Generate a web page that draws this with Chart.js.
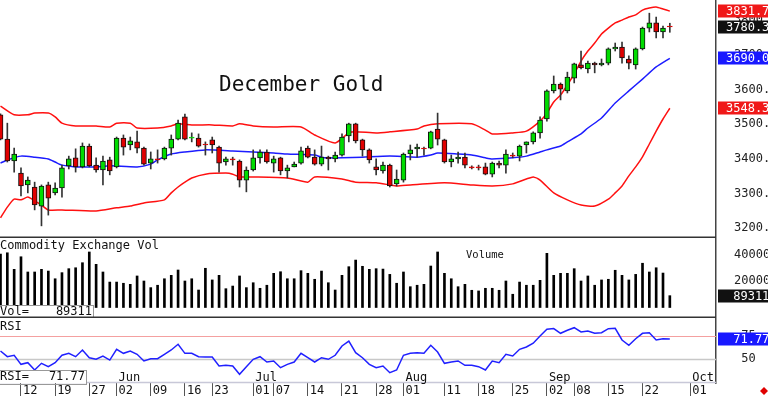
<!DOCTYPE html>
<html>
<head>
<meta charset="utf-8">
<script src="https://cdn.jsdelivr.net/npm/chart.js@4.4.1/dist/chart.umd.min.js"></script>
<style>
  html, body { margin:0; padding:0; background:#fff; }
  body { width:768px; height:399px; position:relative; overflow:hidden; }
  .pane { position:absolute; left:0; width:768px; }
  #pricePane { top:0; height:238px; }
  #volPane { top:238px; height:80px; }
  #rsiPane { top:318px; height:81px; }
</style>
</head>
<body>
<div class="pane" id="pricePane"><canvas id="priceChart"></canvas></div>
<div class="pane" id="volPane"><canvas id="volChart"></canvas></div>
<div class="pane" id="rsiPane"><canvas id="rsiChart"></canvas></div>
<script>
// trading day index 0 = May 7 ... 98 = Sep 26
const tickIdx  = [3,8,13,17,22,27,31,37,40,45,50,55,59,65,70,75,80,84,89,94,101];
const tickText = ['12','19','27','02','09','16','23','01','07','14','21','28','01','11','18','25','02','08','15','22','01'];
const monthIdx  = [17,37,59,80,101];
const monthText = ['Jun','Jul','Aug','Sep','Oct'];

const open  = [3527,3457,3394,3359,3325,3319,3264,3325,3302,3316,3380,3403,3377,3437,3382,3368,3397,3377,3460,3440,
               3449,3431,3388,3400,3400,3431,3457,3521,3460,3460,3443,3455,3434,3391,3400,3394,3339,3368,3403,3420,
               3388,3403,3365,3377,3388,3431,3405,3385,3405,3400,3411,3466,3501,3455,3426,3377,3365,3382,3328,3339,
               3414,3429,3431,3431,3486,3455,3391,3400,3405,3377,3377,3377,3356,3388,3382,3411,3408,3440,3449,3475,
               3515,3596,3616,3596,3633,3671,3659,3676,3671,3676,3717,3722,3688,3671,3717,3777,3792,3766,3783];
const high  = [3530,3503,3431,3374,3348,3333,3325,3333,3331,3382,3408,3429,3446,3443,3403,3408,3405,3463,3469,3463,
               3480,3434,3420,3426,3434,3469,3512,3529,3475,3472,3449,3463,3437,3405,3405,3397,3377,3426,3426,3426,
               3408,3405,3382,3391,3434,3437,3426,3437,3408,3420,3472,3503,3503,3457,3429,3400,3391,3385,3368,3417,
               3440,3443,3434,3480,3532,3457,3411,3420,3417,3380,3382,3388,3391,3394,3426,3417,3440,3449,3478,3521,
               3599,3639,3619,3650,3676,3711,3682,3679,3688,3720,3734,3737,3697,3720,3780,3820,3809,3783,3791];
const low   = [3455,3391,3362,3293,3302,3253,3207,3238,3296,3290,3371,3362,3374,3377,3362,3325,3354,3374,3411,3426,
               3417,3382,3371,3388,3397,3411,3455,3455,3449,3434,3411,3417,3362,3382,3382,3319,3305,3365,3388,3388,
               3362,3354,3345,3377,3385,3403,3382,3380,3368,3391,3408,3449,3446,3408,3388,3354,3359,3319,3322,3333,
               3397,3405,3411,3429,3440,3388,3377,3388,3374,3371,3368,3354,3348,3374,3359,3403,3394,3417,3443,3460,
               3509,3590,3570,3590,3619,3659,3648,3648,3668,3671,3711,3676,3659,3659,3714,3766,3749,3749,3765];
const close = [3457,3394,3414,3322,3339,3267,3322,3287,3316,3374,3400,3377,3437,3380,3368,3394,3365,3460,3434,3452,
               3431,3385,3400,3397,3431,3457,3503,3457,3463,3437,3440,3440,3388,3400,3397,3339,3368,3403,3420,3391,
               3400,3365,3374,3385,3423,3405,3385,3405,3400,3411,3463,3501,3452,3426,3397,3368,3382,3322,3342,3414,
               3426,3434,3429,3478,3457,3391,3400,3405,3382,3374,3374,3356,3388,3382,3414,3408,3437,3449,3475,3512,
               3596,3616,3601,3636,3674,3662,3676,3671,3676,3717,3722,3691,3676,3717,3777,3792,3766,3777,3780.3];

const upIdx  = [0,2,4,5,7,8,9,11,14,16,17,19,20,23,25,26,28,31,34,35,37,40,44,46,49,51,52,55,57,61,
                62,64,69,71,72,75,77,79,80,81,82,83,84,85,86,87,88,89,90,91,92,93,94,95,96,97,98];
const upVal  = [3552,3527,3527,3532,3532,3521,3503,3495,3495,3492,3503,3503,3489,3489,3495,3501,3498,3498,3495,3501,
                3495,3492,3492,3469,3446,3475,3478,3475,3478,3486,3495,3501,3501,3483,3472,3475,3480,3509,3532,3564,
                3584,3613,3645,3682,3711,3734,3760,3777,3792,3800,3809,3815,3829,3835,3838,3832,3826];
const midIdx = [0,1,3,5,7,8,9,11,14,16,20,22,23,25,27,30,34,37,40,42,46,47,48,50,53,57,61,63,64,67,
                69,71,72,75,77,79,80,82,83,85,86,88,90,92,94,96,98];
const midVal = [3388,3397,3408,3405,3400,3391,3382,3377,3377,3380,3377,3385,3397,3414,3420,3426,3423,3420,3417,3414,
                3411,3405,3403,3403,3405,3408,3405,3411,3417,3414,3411,3403,3400,3403,3408,3420,3426,3437,3449,3472,
                3489,3518,3561,3596,3630,3665,3690];
const lowIdx = [0,1,2,3,4,5,6,7,9,14,17,19,21,24,25,26,27,28,30,33,34,35,37,42,45,46,50,52,55,57,
                58,60,65,69,72,75,77,78,79,81,83,85,87,89,90,91,92,93,94,95,96,97,98];
const lowVal = [3230,3261,3284,3282,3290,3279,3267,3253,3253,3250,3259,3264,3273,3282,3302,3319,3333,3345,3356,3359,
                3356,3348,3348,3345,3333,3348,3342,3333,3331,3325,3322,3325,3331,3325,3322,3328,3342,3348,3339,3302,
                3282,3267,3264,3284,3302,3322,3351,3377,3406,3443,3480,3515,3546];
const lastLabels = ['3831.7','3780.3','3690.0','3548.3'];

const volume = [404000,413000,288000,383000,268000,268000,288000,275000,217000,263000,
                293000,300000,338000,419000,326000,268000,192000,192000,183000,175000,
                238000,200000,150000,168000,217000,243000,283000,200000,217000,132000,
                296000,208000,243000,142000,162000,238000,150000,187000,145000,168000,
                258000,270000,217000,217000,278000,258000,213000,275000,187000,132000,
                243000,308000,358000,311000,288000,293000,290000,250000,183000,268000,
                157000,168000,175000,313000,419000,258000,217000,157000,175000,130000,
                125000,145000,145000,130000,200000,100000,192000,168000,168000,205000,
                409000,243000,258000,258000,293000,200000,238000,168000,208000,213000,
                281000,243000,208000,250000,334000,268000,300000,260000,89311];

const rsi = [58.9,52.8,54.3,44.6,46.4,38.5,45.7,42.1,46.4,54.3,56.4,52.8,60.0,51.7,50.0,53.5,49.2,60.7,56.4,58.9,
             55.4,48.2,50.6,50.6,55.4,60.0,66.1,56.4,56.4,52.8,52.5,52.5,42.8,43.6,42.8,33.9,42.1,50.0,52.8,47.1,
             48.2,41.0,44.6,47.1,56.4,51.7,47.1,51.7,50.0,54.3,64.3,69.6,57.1,51.7,44.6,41.0,42.8,35.6,38.5,54.3,
             56.4,57.1,56.4,65.0,57.8,45.7,47.1,48.2,43.6,43.6,42.1,38.5,48.2,46.4,55.4,53.5,60.7,63.2,67.2,75.0,
             82.2,82.9,77.9,81.1,83.9,79.3,80.4,77.9,78.5,82.9,83.2,70.7,65.0,72.1,77.9,78.5,70.7,72.1,71.77];

const priceTicks = [3200,3300,3400,3500,3600,3700,3800];
const volTicks = [0,200000,400000];
const rsiTicks = [50,75];

const MONO = "'DejaVu Sans Mono', 'Liberation Mono', monospace";
const GREEN = '#00dc00', RED = '#e00000';
const X_MIN = -0.073, X_MAX = 104.76;

Chart.defaults.animation = false;
Chart.defaults.events = [];

function pts(xs, ys) { return xs.map((x, k) => ({ x: x, y: ys[k] })); }

function yAxis(min, max, ticks, fmt) {
  return {
    position: 'right', min: min, max: max,
    afterBuildTicks: s => { s.ticks = ticks.map(v => ({ value: v })); },
    afterFit: s => { s.width = 52; s.paddingTop = 0; s.paddingBottom = 0; },
    border: { display: true, color: '#444', width: 1.5 },
    grid: { display: false },
    ticks: { padding: 10, color: '#222', font: { family: MONO, size: 12 }, callback: fmt }
  };
}
function hiddenX() {
  return { type: 'linear', min: X_MIN, max: X_MAX, offset: false, display: false };
}
function valueBox(ctx, y, text, bg) {
  ctx.save();
  ctx.fillStyle = bg;
  ctx.fillRect(718, Math.round(y) - 6.5, 50, 13);
  ctx.fillStyle = '#fff';
  ctx.font = '12px ' + MONO;
  ctx.textBaseline = 'middle';
  ctx.textAlign = 'left';
  ctx.fillText(text.padStart(6, ' '), 726, Math.round(y) + 0.5);
  ctx.restore();
}
function hline(ctx, x1, x2, y, color, w) {
  ctx.save();
  ctx.strokeStyle = color; ctx.lineWidth = w;
  ctx.beginPath(); ctx.moveTo(x1, y); ctx.lineTo(x2, y); ctx.stroke();
  ctx.restore();
}
function label(ctx, text, x, y, size, align) {
  ctx.save();
  ctx.fillStyle = '#111';
  ctx.font = size + 'px ' + MONO;
  ctx.textBaseline = 'middle';
  ctx.textAlign = align || 'left';
  ctx.fillText(text, x, y);
  ctx.restore();
}

const n = close.length;
const bodyColor = close.map((c, i) => c >= open[i] ? GREEN : RED);
const bodyBorder = close.map((c, i) => Math.abs(c - open[i]) < 4 ? bodyColor[i] : '#111');

// ---- price panel
new Chart(document.getElementById('priceChart'), {
  type: 'bar',
  data: {
    datasets: [
      { type: 'line', data: pts(upIdx, upVal), borderColor: '#ff1010', borderWidth: 1.5, pointRadius: 0, tension: 0.2, order: 5 },
      { type: 'line', data: pts(midIdx, midVal), borderColor: '#1c1cff', borderWidth: 1.5, pointRadius: 0, tension: 0.2, order: 5 },
      { type: 'line', data: pts(lowIdx, lowVal), borderColor: '#ff1010', borderWidth: 1.5, pointRadius: 0, tension: 0.2, order: 5 },
      { type: 'bar', data: low.map((v, i) => ({ x: i, y: [v, high[i]] })), backgroundColor: '#333', barThickness: 1, grouped: false, order: 3 },
      { type: 'bar', data: open.map((v, i) => ({ x: i, y: [v, close[i]] })), backgroundColor: bodyColor, borderColor: bodyBorder,
        borderWidth: 1, borderSkipped: false, barThickness: 5, grouped: false, order: 2 }
    ]
  },
  options: {
    responsive: true, maintainAspectRatio: false,
    layout: { padding: 0 },
    plugins: { legend: { display: false }, tooltip: { enabled: false } },
    scales: { x: hiddenX(), y: yAxis(3172, 3858, priceTicks, v => v.toFixed(1)) }
  },
  plugins: [{
    id: 'priceDecor',
    afterDraw(chart) {
      const ctx = chart.ctx, a = chart.chartArea, y = chart.scales.y;
      label(ctx, 'December Gold', 219, 86, 21);
      hline(ctx, 0, a.right, a.bottom - 0.75, '#333', 1.5);
      valueBox(ctx, y.getPixelForValue(upVal[upVal.length - 1]), lastLabels[0], '#f01818');
      valueBox(ctx, y.getPixelForValue(close[n - 1]), lastLabels[1], '#111');
      valueBox(ctx, y.getPixelForValue(midVal[midVal.length - 1]), lastLabels[2], '#1818ff');
      valueBox(ctx, y.getPixelForValue(lowVal[lowVal.length - 1]), lastLabels[3], '#f01818');
    }
  }]
});

// ---- volume panel
new Chart(document.getElementById('volChart'), {
  type: 'bar',
  data: {
    datasets: [
      { data: volume.map((v, i) => ({ x: i, y: v })), backgroundColor: '#000', barThickness: 2, grouped: false }
    ]
  },
  options: {
    responsive: true, maintainAspectRatio: false,
    layout: { padding: 0 },
    plugins: { legend: { display: false }, tooltip: { enabled: false } },
    scales: { x: hiddenX(), y: yAxis(-79200, 524500, volTicks, v => String(v).padStart(6, ' ')) }
  },
  plugins: [{
    id: 'volDecor',
    afterDraw(chart) {
      const ctx = chart.ctx, a = chart.chartArea, y = chart.scales.y;
      label(ctx, 'Commodity Exchange Vol', 0, 7.5, 12);
      label(ctx, 'Volume', 466, 17, 10.5);
      ctx.save();
      ctx.fillStyle = '#fff'; ctx.fillRect(0, 67, 93.5, 13);
      ctx.strokeStyle = '#999'; ctx.lineWidth = 1; ctx.strokeRect(-1, 67.5, 94.5, 14);
      ctx.restore();
      label(ctx, 'Vol=', 0, 74, 12);
      label(ctx, String(volume[n - 1]), 92, 74, 12, 'right');
      hline(ctx, 0, a.right, a.bottom - 0.75, '#333', 1.5);
      valueBox(ctx, y.getPixelForValue(volume[n - 1]), String(volume[n - 1]), '#111');
    }
  }]
});

// ---- RSI panel + date axis
new Chart(document.getElementById('rsiChart'), {
  type: 'line',
  data: {
    datasets: [
      { data: rsi.map((v, i) => ({ x: i, y: v })), borderColor: '#2020ff', borderWidth: 1.5, pointRadius: 0, tension: 0 }
    ]
  },
  options: {
    responsive: true, maintainAspectRatio: false,
    layout: { padding: 0 },
    plugins: { legend: { display: false }, tooltip: { enabled: false } },
    scales: {
      x: {
        type: 'linear', min: X_MIN, max: X_MAX, offset: false, position: 'bottom',
        afterBuildTicks: s => { s.ticks = tickIdx.map(v => ({ value: v })); },
        afterFit: s => { s.height = 16; s.paddingLeft = 0; s.paddingRight = 0; },
        border: { display: false },
        grid: { display: true, drawOnChartArea: false, drawTicks: true, tickLength: 13, color: '#555', lineWidth: 1 },
        ticks: { autoSkip: false, maxRotation: 0, align: 'start', labelOffset: 2, padding: -12, color: '#111',
                 font: { family: MONO, size: 12 }, callback: (v, i) => tickText[i] }
      },
      y: yAxis(24.57, 94.3, rsiTicks, v => String(v).padStart(3, ' '))
    }
  },
  plugins: [{
    id: 'rsiDecor',
    beforeDatasetsDraw(chart) {
      const ctx = chart.ctx, a = chart.chartArea, y = chart.scales.y;
      hline(ctx, 0, a.right, Math.round(y.getPixelForValue(75)) + 0.5, '#f4a0a0', 1);
      hline(ctx, 0, a.right, Math.round(y.getPixelForValue(50)) + 0.5, '#c8c8c8', 1.5);
      hline(ctx, 0, a.right, a.bottom - 0.5, '#c8c8d8', 1.5);
    },
    afterDraw(chart) {
      const ctx = chart.ctx, a = chart.chartArea, x = chart.scales.x, y = chart.scales.y;
      label(ctx, 'RSI', 0, 9, 12);
      ctx.save();
      ctx.fillStyle = '#fff'; ctx.fillRect(0, 52, 86.5, 13);
      ctx.strokeStyle = '#999'; ctx.lineWidth = 1; ctx.strokeRect(-1, 52.5, 87.5, 14);
      ctx.restore();
      label(ctx, 'RSI=', 0, 59, 12);
      label(ctx, rsi[n - 1].toFixed(2), 85, 59, 12, 'right');
      monthIdx.forEach((m, k) => label(ctx, monthText[k], x.getPixelForValue(m) + 2, a.bottom - 5, 12));
      valueBox(ctx, y.getPixelForValue(rsi[n - 1]), rsi[n - 1].toFixed(2), '#1818ff');
      ctx.save();
      ctx.fillStyle = '#e00000';
      ctx.beginPath();
      ctx.moveTo(764, 69); ctx.lineTo(768, 73); ctx.lineTo(764, 77); ctx.lineTo(760, 73); ctx.closePath();
      ctx.fill();
      ctx.restore();
    }
  }]
});
</script>
</body>
</html>
